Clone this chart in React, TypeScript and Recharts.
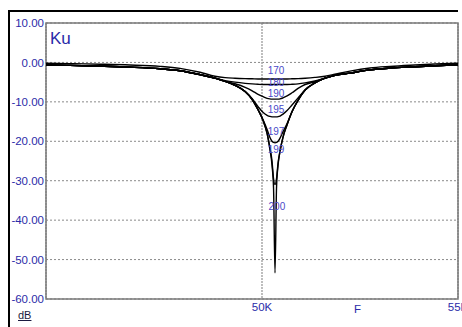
import {
  CartesianGrid,
  Line,
  LineChart,
  ReferenceArea,
  ReferenceDot,
  XAxis,
  YAxis,
} from "recharts";

const N = null;

// frequency samples (Hz)
const freqs = [
  44490, 45100, 45870, 46630, 47400, 47910, 48420, 48800, 49060, 49310, 49570,
  49750, 49900, 50030, 50130, 50200, 50255, 50295, 50332, 50370, 50410, 50460,
  50535, 50640, 50765, 50920, 51100, 51350, 51610, 51860, 52245, 52755, 53265,
  53775, 54415, 55000,
];

// deepest notch, also the common skirt of every curve (dB)
const s200 = [
  -0.65, -0.75, -0.95, -1.2, -1.6, -2.1, -3.1, -4.0, -4.8, -5.8, -7.4, -9.4,
  -12.0, -14.8, -18, -22, -26, -32, -53.4, -32, -26, -22.5, -19, -15.8, -12.5,
  -9.6, -7.0, -5.2, -4.0, -3.3, -2.7, -1.9, -1.45, -1.15, -0.85, -0.6,
];

const s170 = [
  -0.2, -0.3, -0.45, -0.65, -1.0, -1.5, -2.5, -3.5, -3.85, -4.0, -4.1, -4.15,
  -4.2, -4.2, -4.2, -4.2, -4.2, -4.2, -4.2, -4.2, -4.2, -4.2, -4.2, -4.2,
  -4.15, -4.1, -4.0, -3.8, -3.5, -3.0, -2.2, -1.4, -1.0, -0.7, -0.4, -0.2,
];

// null = follows the skirt
const s180 = [
  N, N, N, N, N, N, N, N, -4.6, -5.0, -5.3, -5.45, -5.55, -5.6, -5.6, -5.6,
  -5.6, -5.6, -5.6, -5.6, -5.6, -5.6, -5.6, -5.6, -5.55, -5.45, -5.2, -4.7, N,
  N, N, N, N, N, N, N,
];

const s190 = [
  N, N, N, N, N, N, N, N, N, -5.4, -6.3, -7.2, -8.1, -8.7, -9.1, -9.25, -9.3,
  -9.3, -9.3, -9.3, -9.3, -9.25, -9.0, -8.5, -7.7, -6.6, -5.6, -4.9, N, N, N,
  N, N, N, N, N,
];

const s195 = [
  N, N, N, N, N, N, N, N, N, N, N, -9.2, -11.2, -12.7, -13.4, -13.7, -13.8,
  -13.8, -13.8, -13.8, -13.75, -13.6, -13.1, -12.2, -10.8, -9.0, N, N, N, N, N,
  N, N, N, N, N,
];

const s197 = [
  N, N, N, N, N, N, N, N, N, N, N, N, N, -14.6, -17, -19, -20, -20.3, -20.4,
  -20.3, -20, -19.2, -17.6, -15.5, N, N, N, N, N, N, N, N, N, N, N, N,
];

const s199 = [
  N, N, N, N, N, N, N, N, N, N, N, N, N, N, N, -21.5, -25, -29.5, -31, -29.5,
  -25.5, N, N, N, N, N, N, N, N, N, N, N, N, N, N, N,
];

const yTicks = [10, 0, -10, -20, -30, -40, -50, -60];
const xTicks = [50000, 55000];

const tagNames = ["170", "180", "190", "195", "197", "199", "200"];
const tagF = [50357, 50357, 50357, 50357, 50357, 50357, 50380];
const tagDb = [-2.0, -5.0, -7.8, -12.0, -17.4, -22.1, -36.5];

const seriesKeys = ["s170", "s180", "s190", "s195", "s197", "s199", "s200"];

const data = freqs.map((f, i) => ({
  f,
  s170: s170[i] ?? s200[i],
  s180: s180[i] ?? s200[i],
  s190: s190[i] ?? s200[i],
  s195: s195[i] ?? s200[i],
  s197: s197[i] ?? s200[i],
  s199: s199[i] ?? s200[i],
  s200: s200[i],
}));

const blue = "#2b2ba8";
const font = "'Liberation Sans', Arial, sans-serif";

export default function App() {
  return (
    <div
      style={{
        position: "absolute",
        left: 0,
        top: 0,
        width: 462,
        height: 327,
        background: "#fff",
        overflow: "hidden",
        fontFamily: font,
      }}
    >
      <div
        style={{
          position: "absolute",
          left: 8,
          top: 10,
          width: 450,
          height: 2,
          background: "#000",
        }}
      />
      <div
        style={{
          position: "absolute",
          left: 8,
          top: 10,
          width: 2,
          height: 317,
          background: "#000",
        }}
      />
      <div style={{ position: "absolute", left: 0, top: 0 }}>
        <LineChart
          width={462}
          height={327}
          data={data}
          margin={{ top: 23, right: 4, left: 0, bottom: 0 }}
        >
          <CartesianGrid
            vertical={false}
            stroke="#8a8a8a"
            strokeDasharray="2 2"
          />
          <CartesianGrid
            horizontal={false}
            stroke="#a8a8a8"
            strokeWidth={1.5}
            strokeDasharray="2 1"
          />
          <XAxis
            dataKey="f"
            type="number"
            domain={[44490, 55000]}
            ticks={xTicks}
            interval={0}
            tickFormatter={(v) => `${v / 1000}K`}
            tick={{ fontSize: 11.5, fill: blue, fontFamily: font }}
            tickLine={false}
            tickSize={0}
            tickMargin={4}
            axisLine={false}
            height={28}
            allowDataOverflow
          />
          <YAxis
            type="number"
            domain={[-60, 10]}
            ticks={yTicks}
            interval={0}
            tickFormatter={(v) => v.toFixed(2)}
            tick={{ fontSize: 11.5, fill: blue, fontFamily: font }}
            tickLine={false}
            tickSize={0}
            tickMargin={2}
            axisLine={false}
            width={46}
            allowDataOverflow
          />
          <ReferenceArea
            x1={44490}
            x2={55000}
            y1={-60}
            y2={10}
            fill="none"
            stroke="#7a7a7a"
            strokeWidth={1.5}
          />
          {seriesKeys.map((k) => (
            <Line
              key={k}
              type="monotone"
              dataKey={k}
              stroke="#000"
              strokeWidth={1.4}
              dot={false}
              isAnimationActive={false}
            />
          ))}
          {tagNames.map((t, i) => (
            <ReferenceDot
              key={t}
              x={tagF[i]}
              y={tagDb[i]}
              r={0}
              stroke="none"
              fill="none"
              label={{
                value: t,
                position: "center",
                fill: "#4a4ac8",
                fontSize: 10,
                fontFamily: font,
              }}
            />
          ))}
        </LineChart>
      </div>
      <div
        style={{
          position: "absolute",
          left: 50,
          top: 29,
          fontSize: 17,
          color: blue,
          lineHeight: "20px",
        }}
      >
        Ku
      </div>
      <div
        style={{
          position: "absolute",
          left: 354,
          top: 302,
          fontSize: 11.5,
          color: blue,
          lineHeight: "14px",
        }}
      >
        F
      </div>
      <div
        style={{
          position: "absolute",
          left: 18,
          top: 308,
          fontSize: 11,
          color: "#1a1a40",
          lineHeight: "14px",
          textDecoration: "underline",
        }}
      >
        dB
      </div>
    </div>
  );
}
